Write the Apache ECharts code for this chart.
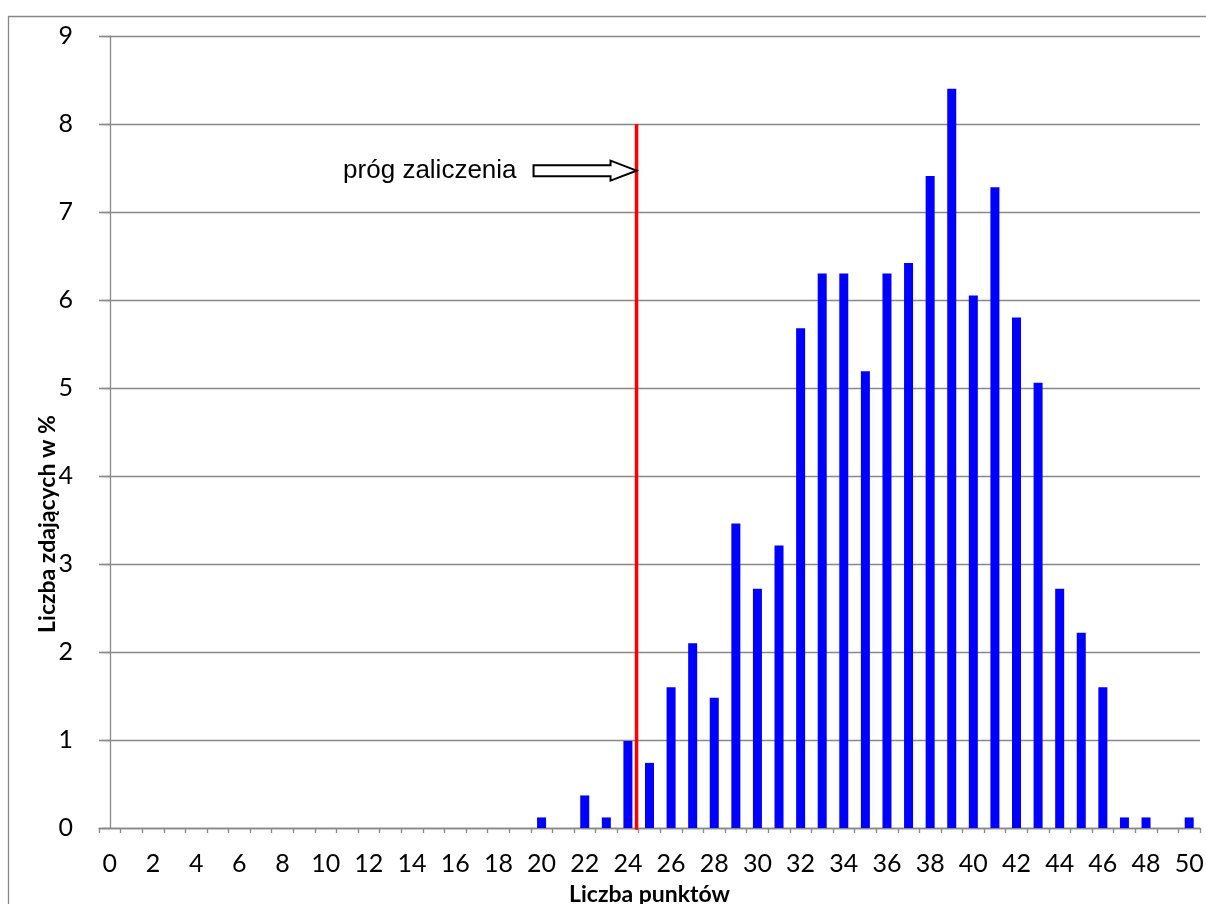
<!DOCTYPE html>
<html>
<head>
<meta charset="utf-8">
<script src="https://cdn.jsdelivr.net/npm/echarts@6/dist/echarts.min.js"></script>
<style>
html,body{margin:0;padding:0;background:#fff;}
#chart{width:1206px;height:904px;}
</style>
</head>
<body>
<div id="chart"></div>
<script>
const categories = ['0','1','2','3','4','5','6','7','8','9','10','11','12','13','14','15','16','17','18','19','20','21','22','23','24','25','26','27','28','29','30','31','32','33','34','35','36','37','38','39','40','41','42','43','44','45','46','47','48','49','50'];
const percentValues = [0,0,0,0,0,0,0,0,0,0,0,0,0,0,0,0,0,0,0,0,
  0.12,0,0.37,0.12,0.99,0.74,1.60,2.10,1.48,3.46,
  2.72,3.21,5.68,6.30,6.30,5.19,6.30,6.42,7.41,8.40,
  6.05,7.28,5.80,5.06,2.72,2.22,1.60,0.12,0.12,0,0.12];
const thresholdX = 24.4;
const thresholdLine = [[thresholdX, -0.03], [thresholdX, 8]];
const arrowTip = [[thresholdX, 7.47]];
const annotationText = 'próg zaliczenia';
const xTitle = 'Liczba punktów';
const yTitle = 'Liczba zdających w %';

const chart = echarts.init(document.getElementById('chart'));
const labelFont = 'Lato, "Open Sans", sans-serif';
chart.setOption({
  animation: false,
  backgroundColor: '#fff',
  grid: { left: 99, top: 36, right: 6, bottom: 76, containLabel: false, outerBoundsMode: 'none' },
  xAxis: [{
    type: 'category',
    data: categories,
    boundaryGap: true,
    axisLine: { show: true, lineStyle: { color: '#888', width: 1.3 } },
    axisTick: { show: true, interval: 0, length: 5, lineStyle: { color: '#888', width: 1.3 } },
    axisLabel: { interval: 1, color: '#000', fontSize: 25, fontFamily: labelFont, margin: 23 },
    splitLine: { show: false },
    name: xTitle,
    nameLocation: 'middle',
    nameGap: 55,
    nameTextStyle: { color: '#000', fontSize: 23, fontWeight: 'bold', fontFamily: labelFont }
  }, {
    type: 'value',
    min: -0.5,
    max: 50.5,
    show: false
  }],
  yAxis: {
    type: 'value',
    min: 0,
    max: 9,
    interval: 1,
    axisLine: { show: true, lineStyle: { color: '#888', width: 1.3 } },
    axisTick: { show: true, length: 8, lineStyle: { color: '#888', width: 1.3 } },
    axisLabel: { color: '#000', fontSize: 25, fontFamily: labelFont, margin: 26 },
    splitLine: { show: true, lineStyle: { color: '#888', width: 1.3 } }
  },
  graphic: [{
    type: 'rect',
    shape: { x: 8.5, y: 16.5, width: 1300, height: 1000 },
    style: { fill: 'none', stroke: '#888', lineWidth: 1.3 },
    silent: true
  }, {
    type: 'text',
    x: 48, y: 524,
    rotation: Math.PI / 2,
    style: {
      text: yTitle, fill: '#000', font: 'bold 23px Lato, "Open Sans", sans-serif',
      textAlign: 'center', textVerticalAlign: 'middle'
    }
  }],
  series: [{
    type: 'bar',
    xAxisIndex: 0,
    data: percentValues,
    barWidth: 9,
    itemStyle: { color: '#0000ff' }
  }, {
    type: 'line',
    xAxisIndex: 1,
    data: thresholdLine,
    symbol: 'none',
    lineStyle: { color: '#ff0000', width: 3.5 },
    z: 5
  }, {
    type: 'custom',
    xAxisIndex: 1,
    data: arrowTip,
    z: 6,
    renderItem: function (params, api) {
      const p = api.coord([api.value(0), api.value(1)]);
      const tx = p[0], ty = p[1];
      return {
        type: 'group',
        children: [{
          type: 'polygon',
          shape: { points: [
            [tx, ty], [tx - 26, ty - 10], [tx - 26, ty - 5.5], [tx - 103, ty - 5.5],
            [tx - 103, ty + 5.5], [tx - 26, ty + 5.5], [tx - 26, ty + 10]
          ] },
          style: { fill: '#fff', stroke: '#000', lineWidth: 2 }
        }, {
          type: 'text',
          x: tx - 120, y: ty,
          style: {
            text: annotationText, fill: '#000',
            font: '26px "Liberation Sans", Arial, sans-serif',
            textAlign: 'right', textVerticalAlign: 'middle'
          }
        }]
      };
    }
  }]
});
</script>
</body>
</html>
